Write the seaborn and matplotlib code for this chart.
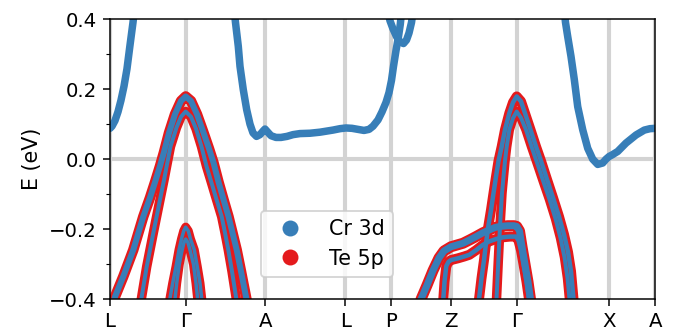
import matplotlib
matplotlib.use('Agg')
import matplotlib.pyplot as plt
from matplotlib.lines import Line2D
from matplotlib.ticker import MultipleLocator
import seaborn as sns

sns.set_style('ticks', {'axes.edgecolor': 'black', 'text.color': 'black',
                        'xtick.color': 'black', 'ytick.color': 'black',
                        'axes.labelcolor': 'black'})
plt.rcParams['font.family'] = ['DejaVu Sans']
plt.rcParams['font.size'] = 10.5

# high-symmetry points along the path
kpt_pos = [0.0, 0.757, 1.553, 2.353, 2.81, 3.41, 4.067, 4.993, 5.453]
kpt_labels = ['L', 'Γ', 'A', 'L', 'P', 'Z', 'Γ', 'X', 'A']

# --- Cr 3d conduction bands ---
k_c1 = [0.0, 0.02, 0.05, 0.08, 0.11, 0.14, 0.17, 0.20, 0.23, 0.25]
e_c1 = [0.088, 0.094, 0.11, 0.135, 0.168, 0.208, 0.258, 0.325, 0.39, 0.44]

k_c2 = [1.24, 1.255, 1.283, 1.30, 1.333, 1.367, 1.40, 1.43, 1.465, 1.50, 1.53, 1.55,
        1.575, 1.61, 1.66, 1.71, 1.77, 1.83, 1.90, 2.00, 2.10, 2.23, 2.30, 2.36,
        2.42, 2.48, 2.54, 2.59, 2.63, 2.68, 2.72, 2.76, 2.79, 2.815, 2.835, 2.86,
        2.885, 2.903, 2.915]
e_c2 = [0.43, 0.39, 0.322, 0.265, 0.198, 0.141, 0.10, 0.075, 0.065, 0.070, 0.080, 0.086,
        0.078, 0.067, 0.062, 0.062, 0.065, 0.070, 0.073, 0.074, 0.077, 0.083, 0.087, 0.089,
        0.088, 0.085, 0.082, 0.085, 0.094, 0.112, 0.135, 0.162, 0.19, 0.225, 0.265, 0.31,
        0.35, 0.385, 0.42]

k_c3 = [2.78, 2.80, 2.83, 2.865, 2.90, 2.935, 2.965, 2.99, 3.015, 3.03]
e_c3 = [0.42, 0.395, 0.372, 0.35, 0.335, 0.33, 0.34, 0.36, 0.39, 0.42]

k_c4 = [4.54, 4.555, 4.577, 4.61, 4.643, 4.677, 4.727, 4.777, 4.827, 4.877, 4.927, 4.96,
        4.993, 5.02, 5.077, 5.16, 5.26, 5.343, 5.40, 5.453]
e_c4 = [0.43, 0.39, 0.35, 0.293, 0.227, 0.15, 0.084, 0.031, 0.0, -0.015, -0.011, 0.0,
        0.008, 0.012, 0.022, 0.046, 0.069, 0.083, 0.087, 0.088]

# --- mixed Cr 3d / Te 5p valence bands ---
k_v1 = [0.025, 0.05, 0.133, 0.233, 0.333, 0.40, 0.45, 0.50, 0.54, 0.59, 0.65, 0.71, 0.757,
        0.81, 0.87, 0.93, 0.99, 1.035, 1.085, 1.135, 1.185, 1.225, 1.267, 1.31, 1.36, 1.385]
e_v1 = [-0.43, -0.393, -0.335, -0.259, -0.164, -0.11, -0.066, -0.02, 0.02, 0.075, 0.128, 0.166, 0.179,
        0.166, 0.128, 0.08, 0.03, -0.01, -0.065, -0.115, -0.164, -0.21, -0.259, -0.32, -0.393, -0.43]

k_v2 = [0.295, 0.317, 0.367, 0.433, 0.50, 0.54, 0.57, 0.605, 0.665, 0.71, 0.757,
        0.81, 0.86, 0.915, 0.965, 1.017, 1.065, 1.117, 1.15, 1.183, 1.22, 1.26, 1.28]
e_v2 = [-0.43, -0.393, -0.307, -0.211, -0.116, -0.06, -0.015, 0.036, 0.09, 0.121, 0.136,
        0.121, 0.087, 0.036, -0.02, -0.069, -0.115, -0.164, -0.21, -0.259, -0.32, -0.393, -0.43]

k_v3 = [0.59, 0.60, 0.627, 0.66, 0.69, 0.715, 0.737, 0.757, 0.783, 0.805, 0.843, 0.873,
        0.90, 0.917, 0.927]
e_v3 = [-0.43, -0.397, -0.354, -0.307, -0.259, -0.228, -0.205, -0.194, -0.205, -0.228, -0.259, -0.307,
        -0.354, -0.397, -0.43]

k_v4 = [0.64, 0.65, 0.667, 0.693, 0.717, 0.74, 0.757, 0.78, 0.805, 0.835, 0.86, 0.877, 0.885]
e_v4 = [-0.43, -0.40, -0.354, -0.30, -0.265, -0.238, -0.228, -0.238, -0.265, -0.30, -0.354, -0.40, -0.43]

k_v5 = [3.68, 3.69, 3.715, 3.74, 3.76, 3.783, 3.81, 3.835, 3.86, 3.885, 3.917, 3.95, 3.993,
        4.03, 4.067, 4.11, 4.15, 4.205, 4.26, 4.31, 4.37, 4.43, 4.49, 4.54, 4.58, 4.61,
        4.635, 4.645]
e_v5 = [-0.43, -0.40, -0.34, -0.288, -0.24, -0.192, -0.145, -0.097, -0.05, -0.005, 0.036, 0.084, 0.131,
        0.162, 0.179, 0.165, 0.131, 0.084, 0.036, -0.005, -0.058, -0.11, -0.164, -0.215, -0.265, -0.32,
        -0.40, -0.43]

k_v6 = [3.855, 3.865, 3.883, 3.90, 3.92, 3.935, 3.95, 3.967, 3.993, 4.03, 4.067, 4.11, 4.16,
        4.215, 4.27, 4.335, 4.395, 4.455, 4.505, 4.545, 4.575, 4.595, 4.605]
e_v6 = [-0.43, -0.40, -0.29, -0.192, -0.097, -0.05, -0.005, 0.036, 0.084, 0.117, 0.136, 0.118, 0.084,
        0.036, -0.01, -0.065, -0.115, -0.17, -0.225, -0.28, -0.34, -0.40, -0.43]

k_v7 = [3.095, 3.11, 3.17, 3.23, 3.29, 3.34, 3.41, 3.47, 3.53, 3.60, 3.66, 3.73, 3.793, 3.85,
        3.90, 3.98, 4.04, 4.067, 4.095, 4.12, 4.15, 4.18, 4.205, 4.215]
e_v7 = [-0.43, -0.40, -0.36, -0.318, -0.282, -0.262, -0.25, -0.245, -0.24, -0.23, -0.221, -0.21, -0.202, -0.195,
        -0.192, -0.19, -0.19, -0.192, -0.205, -0.25, -0.30, -0.35, -0.40, -0.43]

k_v8 = [3.325, 3.333, 3.345, 3.363, 3.385, 3.41, 3.48, 3.54, 3.593, 3.66, 3.727, 3.79, 3.86,
        3.93, 4.00, 4.06, 4.085, 4.11, 4.135, 4.165, 4.19, 4.20]
e_v8 = [-0.43, -0.40, -0.35, -0.305, -0.293, -0.288, -0.283, -0.278, -0.273, -0.26, -0.245, -0.235, -0.228,
        -0.223, -0.221, -0.221, -0.232, -0.26, -0.30, -0.35, -0.40, -0.43]

blue, red = sns.color_palette('Set1')[1], sns.color_palette('Set1')[0]

px = 72 / 135  # points per pixel
cr_only = [(k_c1, e_c1), (k_c2, e_c2), (k_c3, e_c3), (k_c4, e_c4)]
# (k, E, Te width px, Cr width px)
mixed = [(k_v1, e_v1, 10.5, 6), (k_v2, e_v2, 9.5, 4), (k_v3, e_v3, 9, 3.5),
         (k_v4, e_v4, 9, 3.5), (k_v5, e_v5, 10, 4.5), (k_v6, e_v6, 9.5, 4),
         (k_v7, e_v7, 11, 7), (k_v8, e_v8, 10, 4.5)]

fig, ax = plt.subplots(figsize=(676 / 135, 333 / 135), dpi=135)
fig.subplots_adjust(left=0.1627, right=0.9694, top=0.9429, bottom=0.1012)

for kp in kpt_pos:
    ax.axvline(kp, color='lightgray', lw=2.2, zorder=0)
ax.axhline(0, color='lightgray', lw=2.2, zorder=0)

for k, e in cr_only:
    sns.lineplot(x=k, y=e, ax=ax, sort=False, estimator=None, color='k', lw=0.6, zorder=2)
    sns.lineplot(x=k, y=e, ax=ax, sort=False, estimator=None, color=blue,
                 lw=7.5 * px, solid_capstyle='round', zorder=4)
for k, e, wr, wb in mixed:
    sns.lineplot(x=k, y=e, ax=ax, sort=False, estimator=None, color='k', lw=0.6, zorder=2)
    sns.lineplot(x=k, y=e, ax=ax, sort=False, estimator=None, color=red,
                 lw=wr * px, solid_capstyle='round', zorder=3)
for k, e, wr, wb in mixed:
    sns.lineplot(x=k, y=e, ax=ax, sort=False, estimator=None, color=blue,
                 lw=wb * px, solid_capstyle='round', zorder=4)

ax.set_xlim(kpt_pos[0], kpt_pos[-1])
ax.set_ylim(-0.4, 0.4)
ax.set_xticks(kpt_pos)
ax.set_xticklabels(kpt_labels)
ax.set_yticks([-0.4, -0.2, 0.0, 0.2, 0.4])
ax.yaxis.set_minor_locator(MultipleLocator(0.1))
ax.tick_params(which='major', length=3.5, width=0.8)
ax.tick_params(which='minor', length=2, width=0.6)
ax.set_ylabel('E (eV)', fontsize=11)
ax.set_xlabel('')
for s in ax.spines.values():
    s.set_visible(True)
    s.set_linewidth(0.8)
    s.set_zorder(6)

handles = [Line2D([0], [0], marker='o', ls='', color=blue, markersize=7.5, label='Cr 3d'),
           Line2D([0], [0], marker='o', ls='', color=red, markersize=7.5, label='Te 5p')]
ax.legend(handles=handles, loc='lower left', bbox_to_anchor=(0.2765, 0.08),
          borderaxespad=0, frameon=True, fontsize=11, handlelength=2.0,
          handletextpad=0.9, labelspacing=0.45)

fig.savefig('out.png', dpi=135)
